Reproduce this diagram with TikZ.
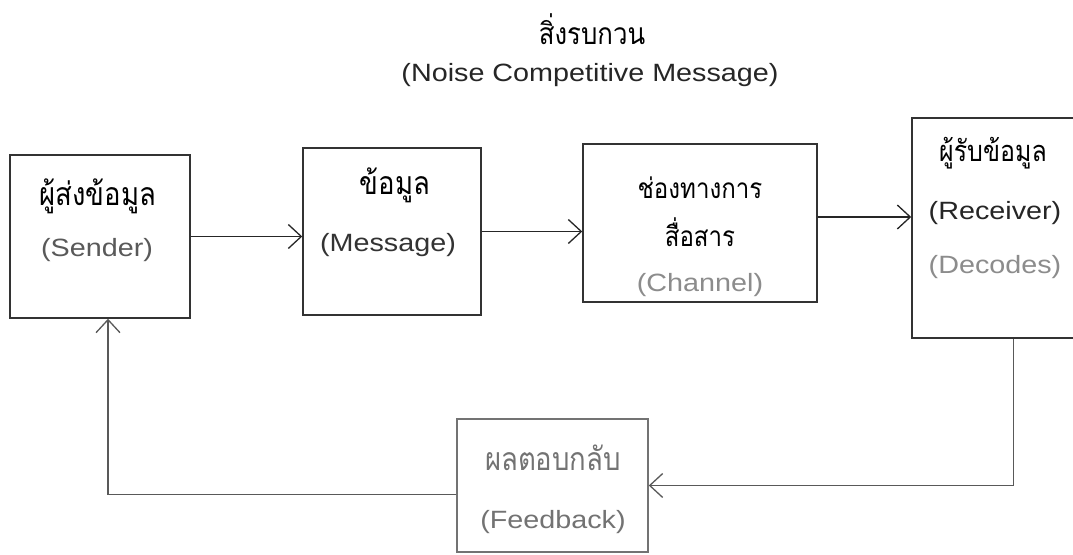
\documentclass[tikz,border=0pt]{standalone}
\usepackage{fontspec}
\setmainfont{Liberation Sans}[FakeStretch=1.15]
\newfontfamily\thai[Script=Thai,FakeStretch=0.86]{Loma}
\usetikzlibrary{arrows.meta}
\begin{document}
\begin{tikzpicture}[x=1pt,y=-1pt,
  box/.style={draw=#1, line width=1.5pt, inner sep=0, fill=none},
  en/.style={font=\fontsize{25}{30}\selectfont, text=#1, inner sep=0},
  th/.style={font=\thai\fontsize{#1}{30}\selectfont, text=black, inner sep=0},
  arr/.style={draw=#1, line width=1.3pt, -{Straight Barb[length=13pt,width=24pt,line width=1.3pt]}}]
\useasboundingbox (0,0) rectangle (1073,554);
\fill[white] (0,0) rectangle (1073,554);
% boxes
\node[box=black!80, minimum width=180pt, minimum height=163pt] (sender) at (100,236.5) {};
\node[box=black!80, minimum width=178pt, minimum height=167pt] (message) at (392,231.5) {};
\node[box=black!80, minimum width=234pt, minimum height=158pt] (channel) at (700,223) {};
\node[box=black!80, minimum width=163pt, minimum height=220pt] (receiver) at (993.5,228) {};
\node[box=black!55, minimum width=191pt, minimum height=133pt] (feedback) at (552.5,485.5) {};
% title
\node[th=30] (noiseth) at (592,29) {สิ่งรบกวน};
\node[en=black!85] (noiseen) at (590,75) {(Noise Competitive Message)};
% sender
\node[th=32] (senderth) at (98,196) {ผู้ส่งข้อมูล};
\node[en=black!65] (senderen) at (97,250) {(Sender)};
% message
\node[th=32] (messageth) at (395,185) {ข้อมูล};
\node[en=black!80] (messageen) at (388,245) {(Message)};
% channel
\node[th=28] (channelth1) at (700,188) {ช่องทางการ};
\node[th=28] (channelth2) at (700,232) {สื่อสาร};
\node[en=black!45] (channelen) at (700,285) {(Channel)};
% receiver
\node[th=29] (receiverth) at (993,153) {ผู้รับข้อมูล};
\node[en=black!85] (receiveren) at (995,213) {(Receiver)};
\node[en=black!45] (receiverdec) at (995,267) {(Decodes)};
% feedback
\node[th=32, text=black!55] (feedbackth) at (553,458) {ผลตอบกลับ};
\node[en=black!55] (feedbacken) at (553,522) {(Feedback)};
% connectors
\draw[arr=black!85] (sender.east) -- (sender.east -| message.west);
\draw[arr=black!85] (message.east) -- (message.east -| channel.west);
\draw[arr=black!85] ([yshift=6pt]channel.east) -- ([yshift=6pt]channel.east -| receiver.west);
\draw[arr=black!65] ([xshift=20pt]receiver.south) |- (feedback.east);
\draw[arr=black!65] ([yshift=-9pt]feedback.west) -| ([xshift=8pt]sender.south);
\end{tikzpicture}
\end{document}
